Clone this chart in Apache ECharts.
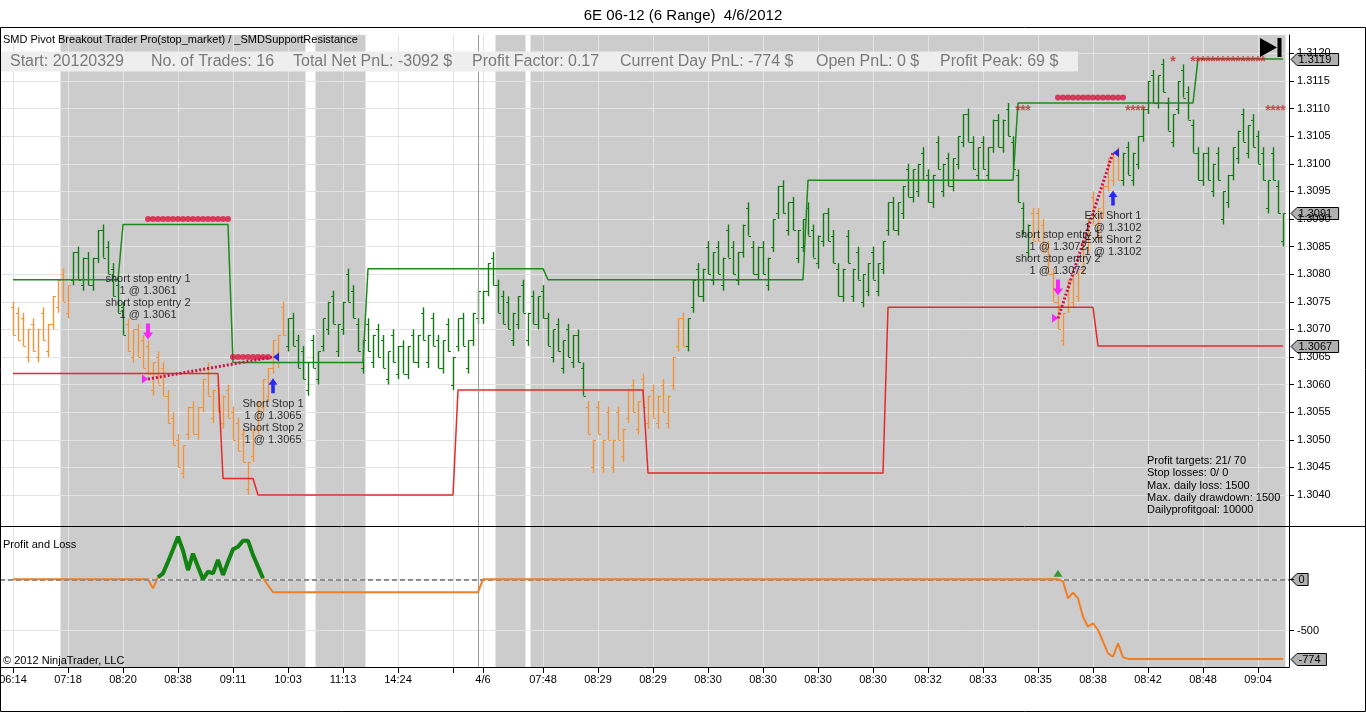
<!DOCTYPE html>
<html><head><meta charset="utf-8">
<script src="https://cdn.jsdelivr.net/npm/echarts@6/dist/echarts.min.js"></script>
<style>html,body{margin:0;padding:0;background:#fff;overflow:hidden}#c{width:1366px;height:713px}</style>
</head><body><div id="c"></div>
<script>
// ---------- DATA ----------
const highs = [1.3075,1.3074,1.3073,1.3070,1.3072,1.3070,1.3074,1.3071,1.3076,1.3079,
1.3081,1.3078,1.3084,1.3085,1.3083,1.3084,1.3083,1.3088,1.3089,1.3086,
1.3082,1.3079,1.3075,1.3072,1.3070,1.3071,1.3069,1.3068,1.3064,1.3066,
1.3064,1.3059,1.3055,1.3051,1.3049,1.3056,1.3057,1.3056,1.3061,1.3064,
1.3059,1.3061,1.3058,1.3060,1.3056,1.3054,1.3052,1.3046,1.3052,1.3057,
1.3061,1.3063,1.3068,1.3069,1.3075,1.3072,1.3073,1.3069,1.3067,1.3064,
1.3069,1.3066,1.3072,1.3075,1.3077,1.3071,1.3075,1.3081,1.3078,1.3072,
1.3068,1.3072,1.3069,1.3071,1.3069,1.3066,1.3070,1.3067,1.3068,1.3067,
1.3070,1.3069,1.3074,1.3069,1.3073,1.3069,1.3068,1.3072,1.3065,1.3072,
1.3073,1.3068,1.3073,1.3077,1.3077,1.3082,1.3084,1.3079,1.3077,1.3076,
1.3073,1.3076,1.3079,1.3073,1.3077,1.3076,1.3078,1.3073,1.3070,1.3072,
1.3068,1.3071,1.3069,1.3070,1.3064,1.3057,1.3050,1.3057,1.3050,1.3056,
1.3050,1.3056,1.3052,1.3059,1.3061,1.3057,1.3062,1.3058,1.3060,1.3058,
1.3061,1.3058,1.3065,1.3072,1.3073,1.3072,1.3079,1.3082,1.3081,1.3086,
1.3084,1.3086,1.3083,1.3089,1.3086,1.3084,1.3089,1.3093,1.3086,1.3085,
1.3086,1.3083,1.3090,1.3096,1.3097,1.3093,1.3094,1.3088,1.3090,1.3093,
1.3089,1.3087,1.3091,1.3092,1.3088,1.3082,1.3081,1.3088,1.3081,1.3085,
1.3080,1.3082,1.3085,1.3082,1.3086,1.3093,1.3094,1.3093,1.3096,1.3100,
1.3099,1.3100,1.3103,1.3099,1.3098,1.3105,1.3100,1.3102,1.3101,1.3105,
1.3109,1.3110,1.3105,1.3103,1.3105,1.3103,1.3108,1.3109,1.3108,1.3111,
1.3105,1.3099,1.3093,1.3089,1.3092,1.3092,1.3090,1.3086,1.3081,1.3076,
1.3073,1.3079,1.3080,1.3081,1.3086,1.3090,1.3095,1.3092,1.3096,1.3101,
1.3102,1.3103,1.3102,1.3104,1.3102,1.3105,1.3110,1.3115,1.3117,1.3116,
1.3119,1.3112,1.3109,1.3115,1.3118,1.3114,1.3108,1.3103,1.3102,1.3103,
1.3100,1.3103,1.3095,1.3098,1.3103,1.3106,1.3110,1.3107,1.3109,1.3106,
1.3103,1.3097,1.3103,1.3097,1.3091];

const lows = [1.3069,1.3068,1.3067,1.3064,1.3066,1.3064,1.3068,1.3065,1.3070,1.3073,
1.3075,1.3072,1.3078,1.3079,1.3077,1.3078,1.3077,1.3082,1.3083,1.3080,
1.3076,1.3073,1.3069,1.3066,1.3064,1.3065,1.3063,1.3062,1.3058,1.3060,
1.3058,1.3053,1.3049,1.3045,1.3043,1.3050,1.3051,1.3050,1.3055,1.3058,
1.3053,1.3055,1.3052,1.3054,1.3050,1.3048,1.3046,1.3040,1.3046,1.3051,
1.3055,1.3057,1.3062,1.3063,1.3069,1.3066,1.3067,1.3063,1.3061,1.3058,
1.3063,1.3060,1.3066,1.3069,1.3071,1.3065,1.3069,1.3075,1.3072,1.3066,
1.3062,1.3066,1.3063,1.3065,1.3063,1.3060,1.3064,1.3061,1.3062,1.3061,
1.3064,1.3063,1.3068,1.3063,1.3067,1.3063,1.3062,1.3066,1.3059,1.3066,
1.3067,1.3062,1.3067,1.3071,1.3071,1.3076,1.3078,1.3073,1.3071,1.3070,
1.3067,1.3070,1.3073,1.3067,1.3071,1.3070,1.3072,1.3067,1.3064,1.3066,
1.3062,1.3065,1.3063,1.3064,1.3058,1.3051,1.3044,1.3051,1.3044,1.3050,
1.3044,1.3050,1.3046,1.3053,1.3055,1.3051,1.3056,1.3052,1.3054,1.3052,
1.3055,1.3052,1.3059,1.3066,1.3067,1.3066,1.3073,1.3076,1.3075,1.3080,
1.3078,1.3080,1.3077,1.3083,1.3080,1.3078,1.3083,1.3087,1.3080,1.3079,
1.3080,1.3077,1.3084,1.3090,1.3091,1.3087,1.3088,1.3082,1.3084,1.3087,
1.3083,1.3081,1.3085,1.3086,1.3082,1.3076,1.3075,1.3082,1.3075,1.3079,
1.3074,1.3076,1.3079,1.3076,1.3080,1.3087,1.3088,1.3087,1.3090,1.3094,
1.3093,1.3094,1.3097,1.3093,1.3092,1.3099,1.3094,1.3096,1.3095,1.3099,
1.3103,1.3104,1.3099,1.3097,1.3099,1.3097,1.3102,1.3103,1.3102,1.3105,
1.3099,1.3093,1.3087,1.3083,1.3086,1.3086,1.3084,1.3080,1.3075,1.3070,
1.3067,1.3073,1.3074,1.3075,1.3080,1.3084,1.3089,1.3086,1.3090,1.3095,
1.3096,1.3097,1.3096,1.3098,1.3096,1.3099,1.3104,1.3109,1.3111,1.3110,
1.3113,1.3106,1.3103,1.3109,1.3112,1.3108,1.3102,1.3097,1.3096,1.3097,
1.3094,1.3097,1.3089,1.3092,1.3097,1.3100,1.3104,1.3101,1.3103,1.3100,
1.3097,1.3091,1.3097,1.3091,1.3085];

const opens = [1.3074,1.3073,1.3072,1.3065,1.3071,1.3065,1.3073,1.3066,1.3071,1.3074,
1.3080,1.3073,1.3079,1.3084,1.3078,1.3083,1.3078,1.3083,1.3088,1.3085,
1.3081,1.3078,1.3074,1.3071,1.3065,1.3070,1.3068,1.3067,1.3059,1.3065,
1.3063,1.3058,1.3054,1.3050,1.3044,1.3051,1.3056,1.3051,1.3056,1.3063,
1.3054,1.3060,1.3053,1.3059,1.3055,1.3053,1.3051,1.3041,1.3047,1.3052,
1.3056,1.3058,1.3063,1.3064,1.3074,1.3067,1.3072,1.3068,1.3066,1.3059,
1.3068,1.3061,1.3067,1.3070,1.3076,1.3066,1.3070,1.3080,1.3077,1.3071,
1.3063,1.3071,1.3064,1.3070,1.3068,1.3061,1.3069,1.3062,1.3067,1.3062,
1.3069,1.3064,1.3073,1.3064,1.3072,1.3068,1.3063,1.3071,1.3060,1.3067,
1.3072,1.3063,1.3068,1.3072,1.3072,1.3077,1.3083,1.3078,1.3076,1.3075,
1.3068,1.3071,1.3078,1.3068,1.3076,1.3071,1.3077,1.3072,1.3065,1.3071,
1.3063,1.3070,1.3064,1.3069,1.3063,1.3056,1.3045,1.3056,1.3045,1.3055,
1.3045,1.3055,1.3047,1.3054,1.3060,1.3052,1.3061,1.3053,1.3059,1.3053,
1.3060,1.3053,1.3060,1.3067,1.3072,1.3067,1.3074,1.3081,1.3076,1.3085,
1.3079,1.3085,1.3078,1.3088,1.3085,1.3079,1.3084,1.3092,1.3085,1.3080,
1.3085,1.3078,1.3085,1.3091,1.3096,1.3088,1.3093,1.3083,1.3085,1.3092,
1.3088,1.3082,1.3086,1.3091,1.3087,1.3081,1.3076,1.3087,1.3076,1.3084,
1.3075,1.3077,1.3084,1.3077,1.3081,1.3088,1.3093,1.3088,1.3091,1.3099,
1.3094,1.3095,1.3102,1.3098,1.3093,1.3104,1.3095,1.3101,1.3096,1.3100,
1.3104,1.3109,1.3104,1.3098,1.3104,1.3098,1.3103,1.3108,1.3103,1.3110,
1.3104,1.3098,1.3092,1.3084,1.3091,1.3091,1.3089,1.3085,1.3080,1.3075,
1.3068,1.3074,1.3075,1.3076,1.3081,1.3085,1.3094,1.3087,1.3091,1.3096,
1.3097,1.3102,1.3097,1.3103,1.3097,1.3100,1.3105,1.3110,1.3116,1.3111,
1.3118,1.3111,1.3104,1.3110,1.3117,1.3113,1.3107,1.3102,1.3097,1.3102,
1.3095,1.3102,1.3090,1.3093,1.3098,1.3101,1.3109,1.3102,1.3108,1.3105,
1.3102,1.3092,1.3102,1.3096,1.3086];

const closes = [1.3069,1.3068,1.3067,1.3070,1.3066,1.3070,1.3068,1.3071,1.3076,1.3079,
1.3075,1.3078,1.3084,1.3079,1.3083,1.3078,1.3083,1.3088,1.3083,1.3080,
1.3076,1.3073,1.3069,1.3066,1.3070,1.3065,1.3063,1.3062,1.3064,1.3060,
1.3058,1.3053,1.3049,1.3045,1.3049,1.3056,1.3051,1.3056,1.3061,1.3058,
1.3059,1.3055,1.3058,1.3054,1.3050,1.3048,1.3046,1.3046,1.3052,1.3057,
1.3061,1.3063,1.3068,1.3069,1.3069,1.3072,1.3067,1.3063,1.3061,1.3064,
1.3063,1.3066,1.3072,1.3075,1.3071,1.3071,1.3075,1.3075,1.3072,1.3066,
1.3068,1.3066,1.3069,1.3065,1.3063,1.3066,1.3064,1.3067,1.3062,1.3067,
1.3064,1.3069,1.3068,1.3069,1.3067,1.3063,1.3068,1.3066,1.3065,1.3072,
1.3067,1.3068,1.3073,1.3077,1.3077,1.3082,1.3078,1.3073,1.3071,1.3070,
1.3073,1.3076,1.3073,1.3073,1.3071,1.3076,1.3072,1.3067,1.3070,1.3066,
1.3068,1.3065,1.3069,1.3064,1.3058,1.3051,1.3050,1.3051,1.3050,1.3050,
1.3050,1.3050,1.3052,1.3059,1.3055,1.3057,1.3056,1.3058,1.3054,1.3058,
1.3055,1.3058,1.3065,1.3072,1.3067,1.3072,1.3079,1.3076,1.3081,1.3080,
1.3084,1.3080,1.3083,1.3083,1.3080,1.3084,1.3089,1.3087,1.3080,1.3085,
1.3080,1.3083,1.3090,1.3096,1.3091,1.3093,1.3088,1.3088,1.3090,1.3087,
1.3083,1.3087,1.3091,1.3086,1.3082,1.3076,1.3081,1.3082,1.3081,1.3079,
1.3080,1.3082,1.3079,1.3082,1.3086,1.3093,1.3088,1.3093,1.3096,1.3094,
1.3099,1.3100,1.3097,1.3093,1.3098,1.3099,1.3100,1.3096,1.3101,1.3105,
1.3109,1.3104,1.3099,1.3103,1.3099,1.3103,1.3108,1.3103,1.3108,1.3105,
1.3099,1.3093,1.3087,1.3089,1.3086,1.3086,1.3084,1.3080,1.3075,1.3070,
1.3073,1.3079,1.3080,1.3081,1.3086,1.3090,1.3089,1.3092,1.3096,1.3101,
1.3102,1.3097,1.3102,1.3098,1.3102,1.3105,1.3110,1.3115,1.3111,1.3116,
1.3113,1.3106,1.3109,1.3115,1.3112,1.3108,1.3102,1.3097,1.3102,1.3097,
1.3100,1.3097,1.3095,1.3098,1.3103,1.3106,1.3104,1.3107,1.3103,1.3100,
1.3097,1.3097,1.3097,1.3091,1.3091];

// bar colour runs [firstBar, lastBar, trend]  (0 = down/orange, 1 = up/green)
const barTrendRuns = [[0,11,0],[12,22,1],[23,54,0],[55,114,1],[115,134,0],[135,203,1],[204,221,0],[222,254,1]];
// support / resistance levels [firstBar, lastBar, price]
const resistanceRuns = [[0,21,1.3079],[22,43,1.3089],[44,70,1.3064],[71,106,1.3081],[107,158,1.3079],[159,200,1.3097],[201,236,1.3111],[237,254,1.3119]];
const supportRuns = [[0,41,1.3062],[42,48,1.3043],[49,88,1.3040],[89,126,1.3059],[127,174,1.3044],[175,216,1.3074],[217,254,1.3067]];
// session shading [firstBar, lastBar]
const sessionBands = [[10,58],[61,70],[97,102],[104,254]];
const dayBreakBar = 93;
// profit-target dots [firstBar, lastBar, price]
const targetDotRuns = [[27,43,1.3090],[44,51,1.3065],[209,222,1.3112]];
// asterisk markers [firstBar, lastBar, price]
const starRuns = [[201,203,1.3110],[223,226,1.3110],[232,232,1.3119],[236,250,1.3119],[251,254,1.3110]];
// executions
const entryFills = [[27,1.3061],[209,1.3072]];
const exitFills = [[52,1.3065],[220,1.3102]];
const entryArrows = [[27,1.30696],[209,1.30776]];
const exitArrows = [[52,1.30598],[220,1.30938]];
const tradeNotes = [
  [27,1.30759,'short stop entry 1\n1 @ 1.3061\nshort stop entry 2\n1 @ 1.3061'],
  [52,1.30532,'Short Stop 1\n1 @ 1.3065\nShort Stop 2\n1 @ 1.3065'],
  [209,1.30839,'short stop entry 1\n1 @ 1.3072\nshort stop entry 2\n1 @ 1.3072'],
  [220,1.30873,'Exit Short 1\n1 @ 1.3102\nExit Short 2\n1 @ 1.3102']
];
// profit and loss panel
const pnlDay1Start = [[0,0],[27,0],[28,-88],[29,20]];
const pnlInProfit = [[29,20],[30,58],[31,171],[32,290],[33,414],[34,280],[35,90],[36,250],[37,123],[38,0],[39,74],[40,58],[41,188],[42,42],[43,171],[44,292],[45,317],[46,376],[47,376],[48,236],[49,123],[50,10]];
const pnlRest = [[50,10],[51,-58],[52,-126],[93,-126],[94,0],[209,0],[210,-20],[211,-185],[212,-130],[213,-185],[214,-364],[215,-461],[216,-428],[217,-493],[218,-607],[219,-720],[220,-753],[221,-623],[222,-759],[223,-774],[254,-774]];
const pnlEntryMark = [[209,0]];
// axes
const xTickBars = [0,11,22,33,44,55,66,77,88,94,106,117,128,139,150,161,172,183,194,205,216,227,238,249];
const xLabelBars = [0,11,22,33,44,55,66,77,94,106,117,128,139,150,161,172,183,194,205,216,227,238,249];
const xLabelTexts = ['06:14','07:18','08:20','08:38','09:11','10:03','11:13','14:24','4/6','07:48','08:29','08:29','08:30','08:30','08:30','08:30','08:32','08:33','08:35','08:38','08:42','08:48','09:04'];
const priceTicks = [1.3040,1.3045,1.3050,1.3055,1.3060,1.3065,1.3070,1.3075,1.3080,1.3085,1.3090,1.3095,1.3100,1.3105,1.3110,1.3115,1.3120];
const pnlTicks = [-500,0];
const pnlLabelTicks = [-500];
// text
const chartTitle = '6E 06-12 (6 Range)  4/6/2012';
const indicatorName = 'SMD Pivot Breakout Trader Pro(stop_market) / _SMDSupportResistance';
const statItems = ['Start: 20120329','No. of Trades: 16','Total Net PnL: -3092 $','Profit Factor: 0.17','Current Day PnL: -774 $','Open PnL: 0 $','Profit Peak: 69 $'];
const infoLines = ['Profit targets: 21/ 70','Stop losses: 0/ 0','Max. daily loss: 1500','Max. daily drawdown: 1500','Dailyprofitgoal: 10000'];

// ---------- STYLE ----------
const FONT = '"Liberation Sans", Arial, sans-serif';
const C_UP = '#137a13', C_DN = '#f39338';
const CLEAR = 'rgba(0,0,0,0)';
const statX = [10,151,293,472,620,816,940];

function trendOf(i){ for (const r of barTrendRuns) if (i>=r[0] && i<=r[1]) return r[2]; return 1; }
function runsToLine(runs){ const out=[]; runs.forEach(r=>{out.push([r[0],r[2]]); out.push([r[1],r[2]]);}); return out; }
function runsToPoints(runs){ const out=[]; runs.forEach(r=>{for(let b=r[0];b<=r[1];b++) out.push([b,r[2]]);}); return out; }

const ohlcData = highs.map((h,i)=>[i, opens[i], h, lows[i], closes[i], trendOf(i)]);
const labelMap = {}; xLabelBars.forEach((b,k)=>labelMap[b]=xLabelTexts[k]);

const XMIN = -2.6, XMAX = 255.2;
function xAxisCfg(idx, showLabels){
  return {type:'value', gridIndex:idx, min:XMIN, max:XMAX,
    axisLine:{show:showLabels, onZero:false, lineStyle:{color:'#000',width:1}},
    axisTick:{show:showLabels, customValues:xTickBars, length:6, lineStyle:{color:'#000'}},
    axisLabel:{show:showLabels, customValues:xLabelBars, formatter:v=>labelMap[v]||'', color:'#000', fontSize:11, fontFamily:FONT, margin:7},
    splitLine:{show:true, lineStyle:{color:'#e3e3e3', width:1}}};
}

function bandSeries(xi){
  return {type:'custom', xAxisIndex:xi, yAxisIndex:xi, z:-1, silent:true, clip:true,
    data:sessionBands, encode:{x:[0,1]},
    renderItem:(params, api)=>{
      const cs = params.coordSys;
      const x1 = api.coord([api.value(0)-0.5, xi===0?1.308:0])[0];
      const x2 = api.coord([api.value(1)+0.5, xi===0?1.308:0])[0];
      return {type:'rect', shape:{x:x1, y:cs.y, width:x2-x1, height:cs.height}, style:{fill:'#cccccc'}};
    }};
}

const downArrow = 'path://M3,0 L7,0 L7,9 L10,9 L5,16 L0,9 L3,9 Z';
const upArrow = 'path://M5,0 L10,7 L7,7 L7,16 L3,16 L3,7 L0,7 Z';
const rightTri = 'path://M0,0 L6,4.5 L0,9 Z';
const leftTri = 'path://M6,0 L0,4.5 L6,9 Z';

const chart = echarts.init(document.getElementById('c'), null, {renderer:'canvas'});
const option = {
  animation:false,
  backgroundColor:'#ffffff',
  textStyle:{fontFamily:FONT},
  title:{text:chartTitle, left:'center', top:3, textStyle:{fontSize:15, fontWeight:'normal', color:'#000', fontFamily:FONT}},
  grid:[{left:0, right:77, top:35, height:491, outerBoundsMode:'none', containLabel:false},
        {left:0, right:77, top:527, height:140, outerBoundsMode:'none', containLabel:false}],
  xAxis:[xAxisCfg(0,false), xAxisCfg(1,true)],
  yAxis:[
    {type:'value', gridIndex:0, position:'right', min:1.303438, max:1.312333,
     axisLine:{show:true, onZero:false, lineStyle:{color:'#000'}},
     axisTick:{show:true, customValues:priceTicks, length:5, lineStyle:{color:'#000'}},
     axisLabel:{customValues:priceTicks, formatter:v=>v.toFixed(4), color:'#000', fontSize:11, fontFamily:FONT, margin:8},
     splitLine:{show:true, lineStyle:{color:'#e3e3e3'}}},
    {type:'value', gridIndex:1, position:'right', min:-853, max:508.8,
     axisLine:{show:true, onZero:false, lineStyle:{color:'#000'}},
     axisTick:{show:true, customValues:pnlTicks, length:5, lineStyle:{color:'#000'}},
     axisLabel:{customValues:pnlLabelTicks, color:'#000', fontSize:11, fontFamily:FONT, margin:8},
     splitLine:{show:true, lineStyle:{color:'#e3e3e3'}}}
  ],
  series:[
    bandSeries(0), bandSeries(1),
    {type:'custom', name:'bars', xAxisIndex:0, yAxisIndex:0, z:3, silent:true,
     data:ohlcData, encode:{x:0, y:[1,2,3,4]},
     renderItem:(params, api)=>{
       const i = api.value(0);
       const pO = api.coord([i, api.value(1)]), pH = api.coord([i, api.value(2)]);
       const pL = api.coord([i, api.value(3)]), pC = api.coord([i, api.value(4)]);
       const col = api.value(5) ? C_UP : C_DN;
       const x = Math.round(pH[0]) + 0.5;
       return {type:'group', children:[
         {type:'line', shape:{x1:x,y1:pH[1],x2:x,y2:pL[1]}, style:{stroke:col, lineWidth:1.4}},
         {type:'line', shape:{x1:x-2.5,y1:Math.round(pO[1])+0.5,x2:x,y2:Math.round(pO[1])+0.5}, style:{stroke:col, lineWidth:1}},
         {type:'line', shape:{x1:x,y1:Math.round(pC[1])+0.5,x2:x+2.5,y2:Math.round(pC[1])+0.5}, style:{stroke:col, lineWidth:1}}
       ]};
     },
     markLine:{silent:true, symbol:'none', label:{show:false}, lineStyle:{color:'#9a9a9a', type:'solid', width:1}, data:[{xAxis:dayBreakBar}]}
    },
    {type:'line', name:'resistance', xAxisIndex:0, yAxisIndex:0, z:4, data:runsToLine(resistanceRuns), symbol:'none', lineStyle:{color:'#1e8a1e', width:1.5}, silent:true},
    {type:'line', name:'support', xAxisIndex:0, yAxisIndex:0, z:4, data:runsToLine(supportRuns), symbol:'none', lineStyle:{color:'#e52a2a', width:1.5}, silent:true},
    {type:'scatter', name:'targets', xAxisIndex:0, yAxisIndex:0, z:5, data:runsToPoints(targetDotRuns), symbol:'circle', symbolSize:6, itemStyle:{color:'#dc143c'}, silent:true},
    {type:'scatter', name:'stars', xAxisIndex:0, yAxisIndex:0, z:5, data:runsToPoints(starRuns), symbolSize:1, itemStyle:{color:CLEAR}, silent:true,
     label:{show:true, position:'inside', formatter:'*', color:'#c4282a', fontSize:14, fontWeight:'bold', offset:[0,3], textBorderWidth:0}},
    {type:'line', name:'trade1', xAxisIndex:0, yAxisIndex:0, z:6, data:[entryFills[0], exitFills[0]], symbol:'none', lineStyle:{color:'#d0104a', width:3, type:[2,2]}, silent:true},
    {type:'line', name:'trade2', xAxisIndex:0, yAxisIndex:0, z:6, data:[entryFills[1], exitFills[1]], symbol:'none', lineStyle:{color:'#d0104a', width:3, type:[2,2]}, silent:true},
    {type:'scatter', name:'entryFill', xAxisIndex:0, yAxisIndex:0, z:7, data:entryFills, symbol:rightTri, symbolSize:[6,9], symbolOffset:[-3,0], itemStyle:{color:'#ff00ff'}, silent:true},
    {type:'scatter', name:'exitFill', xAxisIndex:0, yAxisIndex:0, z:7, data:exitFills, symbol:leftTri, symbolSize:[6,9], symbolOffset:[3,0], itemStyle:{color:'#0000ff'}, silent:true},
    {type:'scatter', name:'entryArrow', xAxisIndex:0, yAxisIndex:0, z:7, data:entryArrows, symbol:downArrow, symbolSize:[10,16], itemStyle:{color:'#ff00ff'}, silent:true},
    {type:'scatter', name:'exitArrow', xAxisIndex:0, yAxisIndex:0, z:7, data:exitArrows, symbol:upArrow, symbolSize:[9,15], itemStyle:{color:'#0000ff'}, silent:true},
    {type:'scatter', name:'notes', xAxisIndex:0, yAxisIndex:0, z:8, silent:true,
     data:tradeNotes.map(t=>({value:[t[0],t[1]], name:t[2]})), symbolSize:1, itemStyle:{color:CLEAR},
     label:{show:true, position:'inside', formatter:'{b}', fontSize:11, lineHeight:12, color:'#000', textBorderWidth:0, fontFamily:FONT}},
    {type:'line', name:'pnl1', xAxisIndex:1, yAxisIndex:1, z:4, data:pnlDay1Start, symbol:'none', lineStyle:{color:'#f07e25', width:2}, silent:true,
     markLine:{silent:true, symbol:'none', label:{show:false}, data:[
       {yAxis:0, lineStyle:{color:'#8e8e8e', type:[5,3], width:2}},
       {xAxis:dayBreakBar, lineStyle:{color:'#9a9a9a', type:'solid', width:1}}]}},
    {type:'line', name:'pnlProfit', xAxisIndex:1, yAxisIndex:1, z:5, data:pnlInProfit, symbol:'none', lineStyle:{color:'#128212', width:4}, silent:true},
    {type:'line', name:'pnl2', xAxisIndex:1, yAxisIndex:1, z:5, data:pnlRest, symbol:'none', lineStyle:{color:'#f07e25', width:2}, silent:true},
    {type:'scatter', name:'pnlMark', xAxisIndex:1, yAxisIndex:1, z:6, data:pnlEntryMark, symbol:'triangle', symbolSize:[9,7], symbolOffset:[0,-6], itemStyle:{color:'#118a11'}, silent:true}
  ]
};
chart.setOption(option);

// ---------- decorations & value markers ----------
function marker(y, text){
  const w = text.length*6.1 + 5;
  return {type:'group', z:100, children:[
    {type:'polygon', shape:{points:[[1291,y],[1297,y-6],[1297+w,y-6],[1297+w,y+6],[1297,y+6]]}, style:{fill:'#b0b0b0', stroke:'#000', lineWidth:1}},
    {type:'text', x:1298.5, y:y, style:{text:text, fill:'#000', font:'11px '+FONT, verticalAlign:'middle', align:'left'}}
  ]};
}
const yPx = (axis, v) => Math.round(chart.convertToPixel({yAxisIndex:axis}, v)) + 0.5;
const lastRes = resistanceRuns[resistanceRuns.length-1][2];
const lastSup = supportRuns[supportRuns.length-1][2];
const lastClose = closes[closes.length-1];
const lastPnl = pnlRest[pnlRest.length-1][1];

const graphics = [
  {type:'rect', z:90, shape:{x:0, y:51.5, width:1078, height:20}, style:{fill:'#eeeeee'}},
  ...statItems.map((s,k)=>({type:'text', z:91, x:statX[k], y:61.5, style:{text:s, fill:'#7a7a7a', font:'16px '+FONT, verticalAlign:'middle'}})),
  {type:'text', z:91, x:3, y:40, style:{text:indicatorName, fill:'#000', font:'11px '+FONT, verticalAlign:'middle'}},
  {type:'text', z:91, x:3, y:544.5, style:{text:'Profit and Loss', fill:'#000', font:'11px '+FONT, verticalAlign:'middle'}},
  {type:'text', z:91, x:3, y:661, style:{text:'\u00a9 2012 NinjaTrader, LLC', fill:'#000', font:'11px '+FONT, verticalAlign:'middle'}},
  {type:'text', z:91, x:1147, y:455, style:{text:infoLines.join('\n'), fill:'#000', font:'11px '+FONT, lineHeight:12.2, verticalAlign:'top'}},
  {type:'polygon', z:92, shape:{points:[[1260,38],[1277,47.5],[1260,57]]}, style:{fill:'#000'}},
  {type:'rect', z:92, shape:{x:1277.5, y:38, width:4, height:19}, style:{fill:'#000'}},
  {type:'line', z:95, shape:{x1:0, y1:526.5, x2:1366, y2:526.5}, style:{stroke:'#000', lineWidth:1}},
  {type:'rect', z:95, shape:{x:0.5, y:27.5, width:1365, height:684}, style:{fill:'none', stroke:'#000', lineWidth:1}},
  marker(yPx(0,lastRes), lastRes.toFixed(4)),
  marker(yPx(0,lastClose), lastClose.toFixed(4)),
  marker(yPx(0,lastSup), lastSup.toFixed(4)),
  marker(yPx(1,0), '0'),
  marker(yPx(1,lastPnl), String(lastPnl))
];
chart.setOption({graphic:graphics});
</script>
</body></html>
